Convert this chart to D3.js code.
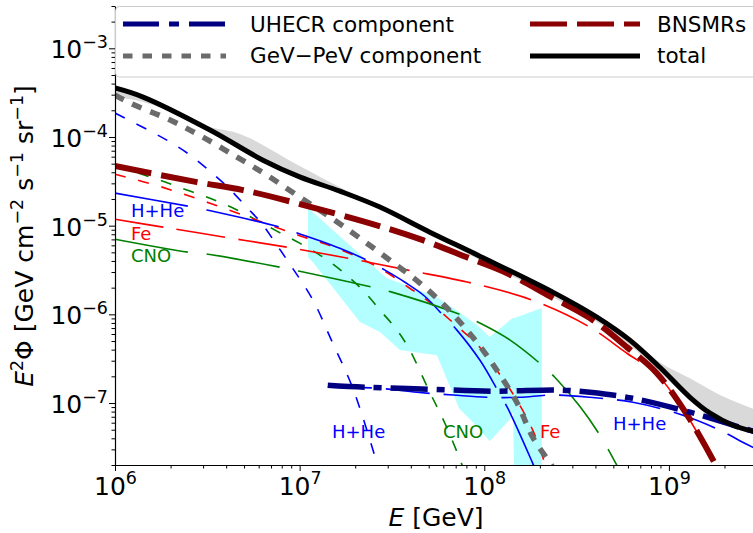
<!DOCTYPE html>
<html>
<head>
<meta charset="utf-8">
<script src="https://cdn.jsdelivr.net/npm/d3@7"></script>
<style>
  body { margin: 0; background: #fff; }
  svg { display: block; }
  text { font-family: "DejaVu Sans", sans-serif; }
</style>
</head>
<body>
<svg id="chart" width="753" height="533"></svg>
<script>
// ---- data: energy E [GeV], E^2 Phi [GeV cm^-2 s^-1 sr^-1] ----
const energyTicks = [1e6, 1e7, 1e8, 1e9];
const fluxTicks = [1e-7, 1e-6, 1e-5, 1e-4, 1e-3];

const totalFlux = [[1.0e6,3.57e-4],[1.42e6,2.82e-4],[3.27e6,1.20e-4],[6.33e6,5.48e-5],[1.0e7,3.55e-5],
  [1.65e7,2.45e-5],[2.72e7,1.62e-5],[5.07e7,8.45e-6],[9.46e7,4.53e-6],[2.35e8,1.78e-6],[4.07e8,9.31e-7],
  [6.14e8,5.12e-7],[8.93e8,2.53e-7],[1.30e9,1.16e-7],[1.67e9,7.68e-8],[2.22e9,5.62e-8],[3.0e9,4.68e-8]];

// [E, lower, upper]
const totalBand = [[1.0e6,2.82e-4,3.75e-4],[1.42e6,2.48e-4,2.97e-4],[2.17e6,1.81e-4,1.96e-4],[3.15e6,1.20e-4,1.33e-4],
  [4.58e6,7.69e-5,1.11e-4],[1.0e7,3.44e-5,4.70e-5],[1.65e7,2.39e-5,2.72e-5],[2.72e7,1.54e-5,1.70e-5],
  [9.46e7,4.08e-6,4.77e-6],[2.35e8,1.56e-6,1.83e-6],[4.07e8,8.18e-7,9.80e-7],[6.14e8,4.48e-7,5.54e-7],
  [8.93e8,2.22e-7,2.88e-7],[1.30e9,1.08e-7,1.90e-7],[1.89e9,6.40e-8,1.23e-7],[3.0e9,4.56e-8,8.30e-8]];

// [E, lower, upper]
const dataBand = [[1.11e7,4.41e-6,1.58e-5],[1.18e7,3.87e-6,1.42e-5],[2.12e7,8.18e-7,4.77e-6],[2.72e7,6.31e-7,2.99e-6],
  [2.97e7,5.39e-7,2.56e-6],[3.49e7,3.95e-7,2.25e-6],[5.54e7,3.45e-7,1.56e-6],[7.30e7,8.74e-8,1.06e-6],
  [9.12e7,5.45e-8,7.57e-7],[1.07e8,3.70e-8,5.54e-7],[1.38e8,6.57e-8,8.62e-7],[1.43e8,7.88e-8,9.08e-7],
  [1.46e8,1.0e-8,9.08e-7],[2.05e8,1.0e-8,1.18e-6]];

const gevPevFlux = [[1.0e6,2.97e-4],[1.21e6,2.41e-4],[1.99e6,1.55e-4],[2.99e6,9.98e-5],[4.58e6,5.93e-5],
  [6.65e6,3.71e-5],[1.0e7,2.10e-5],[1.46e7,1.25e-5],[2.12e7,7.23e-6],[3.08e7,4.08e-6],[4.48e7,2.25e-6],
  [6.28e7,1.18e-6],[8.05e7,6.64e-7],[1.01e8,3.66e-7],[1.17e8,2.34e-7],[1.50e8,1.02e-7],[1.83e8,4.11e-8],
  [2.35e8,1.88e-8],[2.56e8,1.34e-8]];

const bnsmrFlux = [[1.0e6,4.70e-5],[2.78e6,3.10e-5],[4.93e6,2.52e-5],[9.66e6,1.79e-5],[2.62e7,1.01e-5],
  [4.65e7,6.86e-6],[8.05e7,4.41e-6],[1.33e8,2.91e-6],[2.27e8,1.60e-6],[3.73e8,9.08e-7],[5.92e8,4.27e-7],
  [8.60e8,2.17e-7],[1.25e9,7.45e-8],[1.75e9,2.20e-8]];

const uhecrFlux = [[1.42e7,1.59e-7],[2.26e7,1.51e-7],[5.07e7,1.43e-7],[1.14e8,1.36e-7],[2.56e8,1.40e-7],
  [3.73e8,1.32e-7],[6.38e8,1.13e-7],[1.30e9,7.88e-8],[1.82e9,6.40e-8],[2.74e9,4.94e-8],[3.0e9,4.68e-8]];

// GeV-PeV component by mass group
const gevPevHHe = [[1.0e6,1.86e-4],[1.51e6,1.20e-4],[1.99e6,8.76e-5],[2.55e6,6.25e-5],[3.27e6,4.10e-5],
  [4.09e6,2.70e-5],[5.19e6,1.60e-5],[6.25e6,1.05e-5],[7.53e6,6.03e-6],[9.08e6,3.40e-6],[1.18e7,1.45e-6],
  [1.51e7,4.74e-7],[1.94e7,1.47e-7],[2.62e7,2.09e-8],[2.72e7,1.53e-8]];
const gevPevCNO = [[1.0e6,4.70e-5],[1.75e6,3.26e-5],[2.45e6,2.52e-5],[3.27e6,2.04e-5],[4.36e6,1.58e-5],
  [5.87e6,1.15e-5],[7.53e6,8.67e-6],[1.0e7,6.35e-6],[1.34e7,4.41e-6],[1.72e7,2.99e-6],[2.20e7,1.87e-6],
  [2.72e7,1.12e-6],[3.37e7,6.64e-7],[3.95e7,3.95e-7],[5.07e7,1.32e-7],[6.12e7,5.91e-8],[7.66e7,1.88e-8],
  [7.95e7,1.45e-8]];
const gevPevFe = [[1.0e6,3.81e-5],[1.80e6,2.72e-5],[3.27e6,1.79e-5],[5.87e6,1.15e-5],[1.0e7,7.70e-6],
  [1.51e7,5.80e-6],[2.12e7,4.30e-6],[2.83e7,3.15e-6],[3.95e7,1.97e-6],[4.89e7,1.45e-6],[7.20e7,7.19e-7],
  [9.12e7,4.62e-7],[1.17e8,2.34e-7],[1.50e8,1.08e-7],[1.83e8,4.94e-8],[2.13e8,2.09e-8],[2.24e8,1.53e-8]];

// BNSMR component by mass group
const bnsmrHHe = [[1.0e6,2.33e-5],[2.48e6,1.66e-5],[3.15e6,1.50e-5],[7.82e6,9.62e-6],[9.79e6,8.22e-6],
  [1.65e7,5.57e-6],[2.31e7,4.08e-6],[2.90e7,3.15e-6],[3.72e7,2.30e-6],[4.76e7,1.60e-6],[5.97e7,9.80e-7],
  [7.11e7,6.64e-7],[9.46e7,3.05e-7],[1.18e8,1.40e-7],[1.34e8,8.74e-8],[1.83e8,2.09e-8],[1.95e8,1.53e-8]];
const bnsmrCNO = [[1.0e6,7.04e-6],[2.48e6,5.03e-6],[3.19e6,4.77e-6],[7.82e6,3.40e-6],[1.0e7,3.06e-6],
  [2.46e7,2.03e-6],[3.16e7,1.78e-6],[7.57e7,9.80e-7],[9.46e7,7.97e-7],[1.38e8,5.12e-7],[2.05e8,2.68e-7],
  [2.41e8,1.95e-7],[3.29e8,9.19e-8],[4.23e8,4.33e-8],[5.22e8,1.99e-8],[5.56e8,1.53e-8]];
const bnsmrFe = [[1.0e6,1.18e-5],[1.82e6,9.62e-6],[3.94e6,7.41e-6],[8.53e6,5.72e-6],[1.83e7,4.30e-6],
  [3.86e7,3.15e-6],[8.57e7,2.25e-6],[1.81e8,1.45e-6],[3.64e8,7.38e-7],[5.92e8,3.64e-7],[8.60e8,2.11e-7],
  [1.25e9,7.29e-8],[1.73e9,2.20e-8]];

// UHECR component, light group
const uhecrHHe = [[1.42e7,1.51e-7],[2.62e7,1.47e-7],[4.31e7,1.32e-7],[6.77e7,1.23e-7],[1.03e8,1.16e-7],
  [1.56e8,1.16e-7],[2.27e8,1.23e-7],[3.73e8,1.16e-7],[6.38e8,1.02e-7],[1.19e9,7.29e-8],[1.89e9,4.94e-8],
  [2.51e9,3.61e-8],[3.0e9,3.01e-8]];

// ---- layout ----
const svg = d3.select("#chart");
const L = 115, R = 757, T = 6, B = 465;
const x = d3.scaleLog().domain([1e6, 3e9]).range([L, R]);
const y = d3.scaleLog().domain([2e-8, 3e-3]).range([B, T]);

svg.append("defs").append("clipPath").attr("id", "plotClip")
  .append("rect").attr("x", L).attr("y", T).attr("width", R - L).attr("height", B - T);

const plot = svg.append("g").attr("clip-path", "url(#plotClip)");

const line = d3.line().x(d => x(d[0])).y(d => y(d[1])).curve(d3.curveCatmullRom.alpha(0.5));
const smoothBand = d3.area().x(d => x(d[0])).y0(d => y(d[1])).y1(d => y(d[2])).curve(d3.curveMonotoneX);
const sharpBand = d3.area().x(d => x(d[0])).y0(d => y(d[1])).y1(d => y(d[2])).curve(d3.curveLinear);

plot.append("path").attr("d", sharpBand(dataBand)).attr("fill", "#b3ffff");
plot.append("path").attr("d", smoothBand(totalBand)).attr("fill", "#d9d9d9");

const BLUE = "#0000ff", GREEN = "#008000", RED = "#ff0000";
const thin = [
  { d: gevPevHHe, c: BLUE,  dash: "11,13" },
  { d: gevPevCNO, c: GREEN, dash: "11,13" },
  { d: gevPevFe,  c: RED,   dash: "11,13" },
  { d: bnsmrHHe,  c: BLUE,  dash: "74,19" },
  { d: bnsmrCNO,  c: GREEN, dash: "74,19" },
  { d: bnsmrFe,   c: RED,   dash: "49,13.5" },
  { d: uhecrHHe,  c: BLUE,  dash: "44,14" }
];
thin.forEach(s => {
  plot.append("path").attr("d", line(s.d)).attr("fill", "none")
    .attr("stroke", s.c).attr("stroke-width", 1.6).attr("stroke-dasharray", s.dash);
});

const thick = [
  { d: gevPevFlux, c: "#6b6b6b", dash: "10,9.5", w: 5.5 },
  { d: bnsmrFlux,  c: "#8b0000", dash: "37,10", w: 6 },
  { d: uhecrFlux,  c: "#000080", dash: "37,9,8,9", w: 5.5 },
  { d: totalFlux,  c: "#000000", dash: null, w: 5 }
];
thick.forEach(s => {
  plot.append("path").attr("d", line(s.d)).attr("fill", "none")
    .attr("stroke", s.c).attr("stroke-width", s.w)
    .attr("stroke-dasharray", s.dash);
});

// mass-group labels
const groupLabels = [
  { t: "H+He", c: BLUE,  x: 131, y: 217 },
  { t: "Fe",   c: RED,   x: 131, y: 240 },
  { t: "CNO",  c: GREEN, x: 131, y: 262 },
  { t: "H+He", c: BLUE,  x: 332, y: 438 },
  { t: "CNO",  c: GREEN, x: 443, y: 438 },
  { t: "Fe",   c: RED,   x: 540, y: 438 },
  { t: "H+He", c: BLUE,  x: 613, y: 430 }
];
groupLabels.forEach(g => {
  svg.append("text").attr("x", g.x).attr("y", g.y).attr("fill", g.c)
    .attr("font-size", 18).text(g.t);
});

// ---- axes ----
function minorTicks(lo, hi) {
  const out = [];
  for (let e = Math.floor(Math.log10(lo)); e <= Math.ceil(Math.log10(hi)); e++) {
    for (let k = 2; k <= 9; k++) {
      const v = k * Math.pow(10, e);
      if (v >= lo * 0.999 && v <= hi * 1.001) out.push(v);
    }
  }
  return out;
}
function expText(v) {
  const e = Math.round(Math.log10(v));
  return e < 0 ? "\u2212" + (-e) : String(e);
}

const gx = svg.append("g").attr("transform", `translate(0,${B})`)
  .call(d3.axisBottom(x).tickValues(energyTicks).tickSize(6).tickSizeOuter(0).tickFormat(() => ""));
svg.append("g").attr("transform", `translate(0,${B})`)
  .call(d3.axisBottom(x).tickValues(minorTicks(1e6, 3e9)).tickSize(3.5).tickSizeOuter(0).tickFormat(() => ""))
  .call(g => g.select(".domain").remove());
gx.selectAll(".tick text").each(function (d) {
  const t = d3.select(this).attr("y", 30).attr("dy", null)
    .attr("font-size", 25).attr("fill", "#000").attr("text-anchor", "middle");
  t.text(null);
  t.append("tspan").text("10");
  t.append("tspan").attr("dy", -11).attr("font-size", 17.5).text(expText(d));
});

const gy = svg.append("g").attr("transform", `translate(${L},0)`)
  .call(d3.axisLeft(y).tickValues(fluxTicks).tickSize(6).tickSizeOuter(0).tickFormat(() => ""));
svg.append("g").attr("transform", `translate(${L},0)`)
  .call(d3.axisLeft(y).tickValues(minorTicks(2e-8, 3e-3)).tickSize(3.5).tickSizeOuter(0).tickFormat(() => ""))
  .call(g => g.select(".domain").remove());
gy.selectAll(".tick text").each(function (d) {
  const t = d3.select(this).attr("x", -7).attr("y", 9.5).attr("dy", null)
    .attr("font-size", 25).attr("fill", "#000").attr("text-anchor", "end");
  t.text(null);
  t.append("tspan").text("10");
  t.append("tspan").attr("dy", -10).attr("font-size", 17.5).text(expText(d));
});

svg.selectAll(".domain").attr("stroke", "#000").attr("stroke-width", 1.2);
svg.selectAll(".tick line").attr("stroke", "#000").attr("stroke-width", 1);

// axis titles
const xl = svg.append("text").attr("x", 436).attr("y", 526).attr("text-anchor", "middle").attr("font-size", 25);
xl.append("tspan").attr("font-style", "italic").text("E");
xl.append("tspan").text(" [GeV]");

const yl = svg.append("text").attr("transform", "translate(33,236) rotate(-90)")
  .attr("text-anchor", "middle").attr("font-size", 25);
yl.append("tspan").attr("font-style", "italic").text("E");
yl.append("tspan").attr("dy", -10).attr("font-size", 17.5).text("2");
yl.append("tspan").attr("dy", 10).text("\u03A6 [GeV cm");
yl.append("tspan").attr("dy", -10).attr("font-size", 17.5).text("\u22122");
yl.append("tspan").attr("dy", 10).text(" s");
yl.append("tspan").attr("dy", -10).attr("font-size", 17.5).text("\u22121");
yl.append("tspan").attr("dy", 10).text(" sr");
yl.append("tspan").attr("dy", -10).attr("font-size", 17.5).text("\u22121");
yl.append("tspan").attr("dy", 10).text("]");

// ---- legend ----
const legendItems = [
  { label: "UHECR component",     c: "#000080", dash: "36,10,10,10", x0: 123, x1: 226, tx: 250, row: 0 },
  { label: "GeV\u2212PeV component", c: "#6b6b6b", dash: "9.5,10",   x0: 123, x1: 226, tx: 250, row: 1 },
  { label: "BNSMRs",              c: "#8b0000", dash: "37,10",       x0: 530, x1: 640, tx: 657, row: 0 },
  { label: "total",               c: "#000000", dash: null,          x0: 530, x1: 640, tx: 657, row: 1 }
];
const leg = svg.append("g");
leg.append("rect").attr("x", 115.5).attr("y", 6.5).attr("width", 700).attr("height", 70.5).attr("rx", 4)
  .attr("fill", "#fff").attr("fill-opacity", 0.8).attr("stroke", "#cccccc").attr("stroke-width", 1);
legendItems.forEach(it => {
  const ly = it.row === 0 ? 24 : 56;
  leg.append("line").attr("x1", it.x0).attr("x2", it.x1).attr("y1", ly).attr("y2", ly)
    .attr("stroke", it.c).attr("stroke-width", 5).attr("stroke-dasharray", it.dash);
  leg.append("text").attr("x", it.tx).attr("y", it.row === 0 ? 32 : 63)
    .attr("font-size", 21.5).attr("fill", "#000").text(it.label);
});
</script>
</body>
</html>
